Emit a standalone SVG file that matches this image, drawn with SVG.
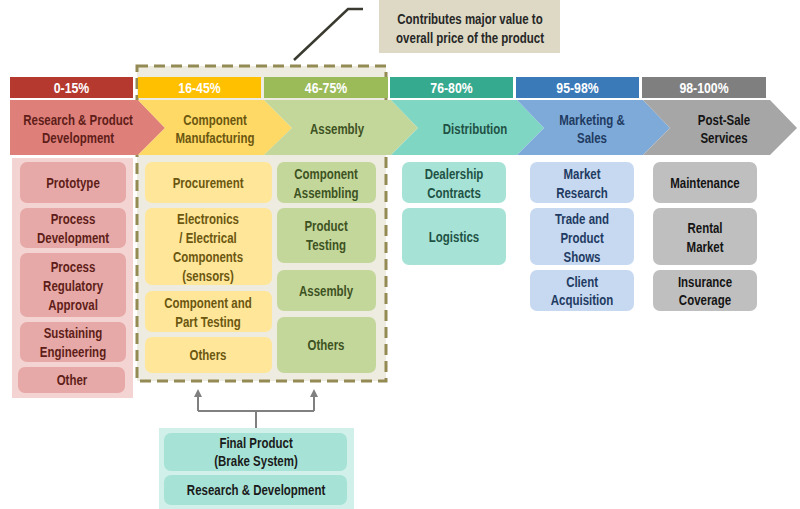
<svg xmlns="http://www.w3.org/2000/svg" width="800" height="509" viewBox="0 0 800 509">
<style>
text{font-family:"Liberation Sans",Arial,sans-serif;font-size:14px;font-weight:bold;text-anchor:middle;transform-box:fill-box;transform-origin:center;transform:scale(0.82,1)}
.pct{fill:#fff;font-size:15px}
.r{fill:#e6a9a7}.rt{fill:#5e1d18}
.y{fill:#ffe699}.yt{fill:#6b5710}
.g{fill:#c4d79b}.gt{fill:#3d5222}
.t{fill:#a6e3d6}.tt{fill:#1f5245}
.b{fill:#c6d9f1}.bt{fill:#1f3b62}
.k{fill:#bfbfbf}.kt{fill:#141414}
.conn{fill:none;stroke:#808080;stroke-width:2}
</style>
<defs>
<marker id="ah" markerWidth="8" markerHeight="8" refX="4" refY="4" orient="auto" markerUnits="userSpaceOnUse">
<path d="M0,0 L8,4 L0,8 Z" fill="#808080"/>
</marker>
</defs>
<rect width="800" height="509" fill="#fff"/>

<g id="callout">
<rect x="379" y="0" width="181" height="53" fill="#ddd9c4"/>
<text x="470" y="24" fill="#262626">Contributes major value to</text>
<text x="470" y="43" fill="#262626">overall price of the product</text>
<path d="M294,60 L348,9 L363,9" fill="none" stroke="#3a3a30" stroke-width="2.5"/>
</g>

<g id="highlight">
<rect x="137" y="66" width="249" height="315" fill="#eeece1" stroke="#948a54" stroke-width="3" stroke-dasharray="11 6"/>
</g>

<g id="bars">
<rect x="10" y="77" width="123" height="21" fill="#b5392f"/>
<text class="pct" x="71.5" y="93">0-15%</text>
<rect x="138" y="77" width="123" height="21" fill="#ffc000"/>
<text class="pct" x="199.5" y="93">16-45%</text>
<rect x="264" y="77" width="124" height="21" fill="#9bbb59"/>
<text class="pct" x="326" y="93">46-75%</text>
<rect x="390" y="77" width="123" height="21" fill="#36aa8f"/>
<text class="pct" x="451.5" y="93">76-80%</text>
<rect x="516" y="77" width="123" height="21" fill="#3a7ab9"/>
<text class="pct" x="577.5" y="93">95-98%</text>
<rect x="642" y="77" width="124" height="21" fill="#7f7f7f"/>
<text class="pct" x="704" y="93">98-100%</text>
</g>

<g id="stage-research">
<path d="M10,100 L138,100 L165,128 L138,155 L10,155 Z" fill="#df7f7a"/>
<text class="rt" x="78" y="125">Research &amp; Product</text>
<text class="rt" x="78" y="143">Development</text>
</g>
<g id="stage-manufacturing">
<path d="M138,100 L264,100 L292,128 L264,155 L138,155 L165,128 Z" fill="#ffd966"/>
<text class="yt" x="215" y="125">Component</text>
<text class="yt" x="215" y="143">Manufacturing</text>
</g>
<g id="stage-assembly">
<path d="M264,100 L391,100 L418,128 L391,155 L264,155 L292,128 Z" fill="#c4d79b"/>
<text class="gt" x="337" y="134">Assembly</text>
</g>
<g id="stage-distribution">
<path d="M391,100 L517,100 L544,128 L517,155 L391,155 L418,128 Z" fill="#7fd6c3"/>
<text class="tt" x="475" y="134">Distribution</text>
</g>
<g id="stage-marketing">
<path d="M517,100 L643,100 L670,128 L643,155 L517,155 L544,128 Z" fill="#7eaad9"/>
<text class="bt" x="592" y="125">Marketing &amp;</text>
<text class="bt" x="592" y="143">Sales</text>
</g>
<g id="stage-postsale">
<path d="M643,100 L770,100 L797,128 L770,155 L643,155 L670,128 Z" fill="#a6a6a6"/>
<text class="kt" x="724" y="125">Post-Sale</text>
<text class="kt" x="724" y="143">Services</text>
</g>

<g id="col-research">
<rect x="12" y="158" width="121" height="240" fill="#f4d4d3"/>
<g id="prototype"><rect class="r" x="20" y="162" width="106" height="41" rx="7"/><text class="rt" x="73" y="188">Prototype</text></g>
<g id="process-dev"><rect class="r" x="20" y="208" width="106" height="40" rx="7"/><text class="rt" x="73" y="224">Process</text><text class="rt" x="73" y="243">Development</text></g>
<g id="process-reg"><rect class="r" x="20" y="253" width="106" height="64" rx="7"/><text class="rt" x="73" y="272">Process</text><text class="rt" x="73" y="291">Regulatory</text><text class="rt" x="73" y="310">Approval</text></g>
<g id="sustaining"><rect class="r" x="20" y="322" width="106" height="40" rx="7"/><text class="rt" x="73" y="338">Sustaining</text><text class="rt" x="73" y="357">Engineering</text></g>
<g id="other"><rect class="r" x="18" y="367" width="107" height="26" rx="7"/><text class="rt" x="72" y="385">Other</text></g>
</g>

<g id="col-manufacturing">
<g id="procurement"><rect class="y" x="145" y="162" width="127" height="41" rx="7"/><text class="yt" x="208" y="188">Procurement</text></g>
<g id="electronics"><rect class="y" x="145" y="208" width="127" height="77" rx="7"/><text class="yt" x="208" y="224">Electronics</text><text class="yt" x="208" y="243">/ Electrical</text><text class="yt" x="208" y="262">Components</text><text class="yt" x="208" y="281">(sensors)</text></g>
<g id="part-testing"><rect class="y" x="145" y="291" width="127" height="41" rx="7"/><text class="yt" x="208" y="308">Component and</text><text class="yt" x="208" y="327">Part Testing</text></g>
<g id="others-m"><rect class="y" x="145" y="337" width="127" height="36" rx="7"/><text class="yt" x="208" y="360">Others</text></g>
</g>

<g id="col-assembly">
<g id="comp-assembling"><rect class="g" x="277" y="162" width="99" height="41" rx="7"/><text class="gt" x="326" y="179">Component</text><text class="gt" x="326" y="198">Assembling</text></g>
<g id="product-testing"><rect class="g" x="277" y="208" width="99" height="55" rx="7"/><text class="gt" x="326" y="231">Product</text><text class="gt" x="326" y="250">Testing</text></g>
<g id="assembly-sub"><rect class="g" x="277" y="270" width="99" height="41" rx="7"/><text class="gt" x="326" y="296">Assembly</text></g>
<g id="others-a"><rect class="g" x="277" y="317" width="99" height="56" rx="7"/><text class="gt" x="326" y="350">Others</text></g>
</g>

<g id="col-distribution">
<g id="dealership"><rect class="t" x="402" y="162" width="104" height="41" rx="7"/><text class="tt" x="454" y="179">Dealership</text><text class="tt" x="454" y="198">Contracts</text></g>
<g id="logistics"><rect class="t" x="402" y="208" width="104" height="57" rx="7"/><text class="tt" x="454" y="242">Logistics</text></g>
</g>

<g id="col-marketing">
<g id="market-research"><rect class="b" x="530" y="162" width="104" height="41" rx="7"/><text class="bt" x="582" y="179">Market</text><text class="bt" x="582" y="198">Research</text></g>
<g id="trade-shows"><rect class="b" x="530" y="208" width="104" height="57" rx="7"/><text class="bt" x="582" y="224">Trade and</text><text class="bt" x="582" y="243">Product</text><text class="bt" x="582" y="262">Shows</text></g>
<g id="client-acq"><rect class="b" x="530" y="270" width="104" height="41" rx="7"/><text class="bt" x="582" y="287">Client</text><text class="bt" x="582" y="305">Acquisition</text></g>
</g>

<g id="col-postsale">
<g id="maintenance"><rect class="k" x="653" y="162" width="104" height="41" rx="7"/><text class="kt" x="705" y="188">Maintenance</text></g>
<g id="rental"><rect class="k" x="653" y="208" width="104" height="57" rx="7"/><text class="kt" x="705" y="233">Rental</text><text class="kt" x="705" y="252">Market</text></g>
<g id="insurance"><rect class="k" x="653" y="270" width="104" height="41" rx="7"/><text class="kt" x="705" y="287">Insurance</text><text class="kt" x="705" y="305">Coverage</text></g>
</g>

<g id="bottom">
<rect x="159" y="428" width="195" height="81" fill="#d1f0e9"/>
<g id="final-product"><rect class="t" x="164" y="433" width="183" height="38" rx="7"/><text fill="#1a1a1a" x="256" y="448">Final Product</text><text fill="#1a1a1a" x="256" y="466">(Brake System)</text></g>
<g id="rnd"><rect class="t" x="164" y="475" width="183" height="30" rx="7"/><text fill="#1a1a1a" x="256" y="495">Research &amp; Development</text></g>
</g>

<g id="connectors">
<path class="conn" d="M256,428 L256,411 M198,411 L314,411"/>
<path class="conn" d="M198,411 L198,393" marker-end="url(#ah)"/>
<path class="conn" d="M314,411 L314,393" marker-end="url(#ah)"/>
</g>
</svg>
